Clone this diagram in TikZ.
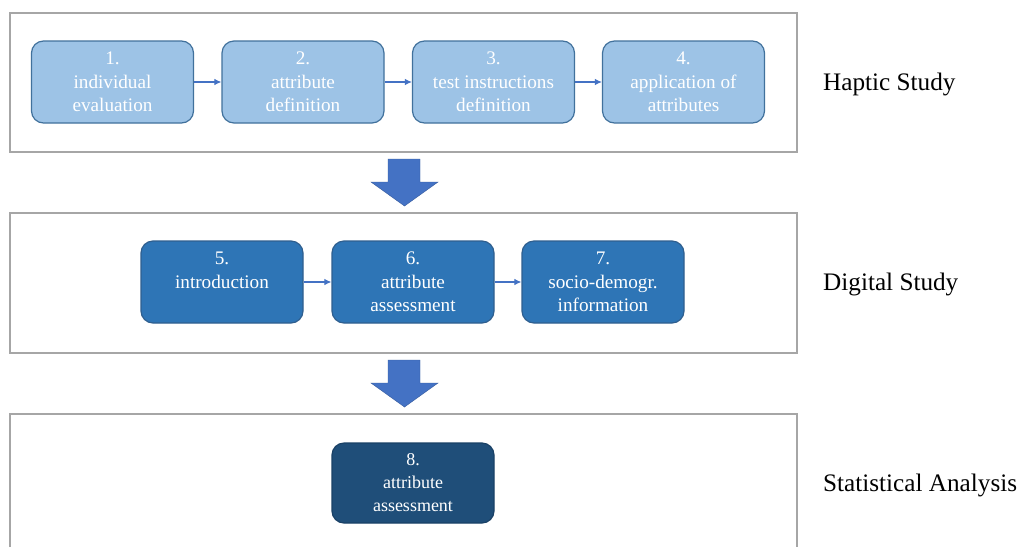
\documentclass[tikz,border=0pt]{standalone}
\usepackage{fontspec}
\setmainfont{Liberation Serif}
\usetikzlibrary{arrows.meta}
\definecolor{frameg}{HTML}{A6A6A6}
\definecolor{lightfill}{HTML}{9DC3E6}
\definecolor{lightdraw}{HTML}{41719C}
\definecolor{midfill}{HTML}{2E75B6}
\definecolor{middraw}{HTML}{2F5F8F}
\definecolor{darkfill}{HTML}{1F4E79}
\definecolor{darkdraw}{HTML}{1A4166}
\definecolor{arrowblue}{HTML}{4472C4}
\begin{document}
\begin{tikzpicture}[x=1pt,y=-1pt,
  frame/.style={draw=frameg,line width=1.5pt},
  stepbox/.style={rectangle,rounded corners=12pt,minimum width=162pt,minimum height=82pt,
    line width=1.2pt,text=white,align=center,inner sep=0pt,
    font=\rmfamily\fontsize{19.2}{23.5}\selectfont},
  light/.style={stepbox,fill=lightfill,draw=lightdraw},
  mid/.style={stepbox,fill=midfill,draw=middraw},
  dark/.style={stepbox,fill=darkfill,draw=darkdraw,minimum height=80pt,font=\rmfamily\fontsize{18}{23}\selectfont},
  link/.style={-{Latex[length=7pt,width=6.5pt]},draw=arrowblue,line width=1.1pt},
  bigarrow/.style={fill=arrowblue,draw=arrowblue!80!black,line width=0.4pt},
  phase/.style={anchor=west,font=\rmfamily\fontsize{25.2}{28}\selectfont,text=black,inner sep=0pt}
  ]
\useasboundingbox (0,0) rectangle (1022,547);
\fill[white] (0,0) rectangle (1022,547);
% frames
\draw[frame] (10,13) rectangle (797,152);
\draw[frame] (10,213) rectangle (797,353);
\draw[frame] (10,547) -- (10,414) -- (797,414) -- (797,547);
% row 1
\node[light] (n1) at (112.5,82) {1.\\individual\\evaluation};
\node[light] (n2) at (303,82) {2.\\attribute\\definition};
\node[light] (n3) at (493.5,82) {3.\\test instructions\\definition};
\node[light] (n4) at (683.5,82) {4.\\application of\\attributes};
\draw[link] (n1) -- (n2);
\draw[link] (n2) -- (n3);
\draw[link] (n3) -- (n4);
% row 2
\node[mid] (n5) at (222,282) {5.\\introduction\\\mbox{}};
\node[mid] (n6) at (413,282) {6.\\attribute\\assessment};
\node[mid] (n7) at (603,282) {7.\\socio-demogr.\\information};
\draw[link] (n5) -- (n6);
\draw[link] (n6) -- (n7);
% row 3
\node[dark] (n8) at (413,483) {8.\\attribute\\assessment};
% block arrows
\draw[bigarrow] (388,159) -- (420,159) -- (420,182) -- (438,182) -- (404.5,206) -- (371,182) -- (388,182) -- cycle;
\draw[bigarrow] (388,360) -- (420,360) -- (420,383) -- (438,383) -- (404.5,407) -- (371,383) -- (388,383) -- cycle;
% phase labels
\node[phase] (l1) at (823,84.5) {Haptic Study};
\node[phase] (l2) at (823,284.5) {Digital Study};
\node[phase] (l3) at (823,485.5) {Statistical Analysis};
\end{tikzpicture}
\end{document}
